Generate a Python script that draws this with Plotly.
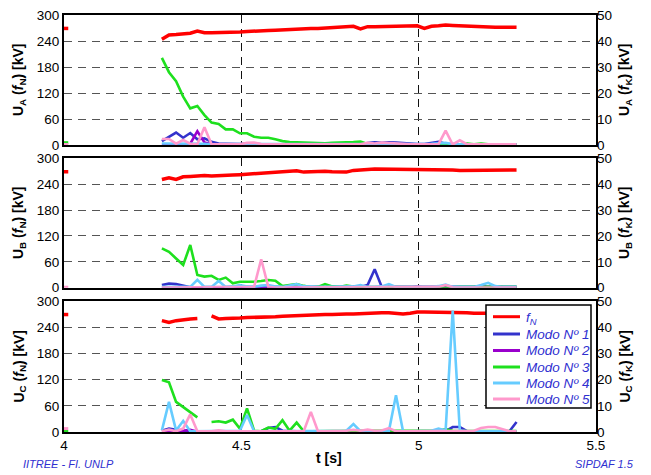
import plotly.graph_objects as go

# ---------------- data ----------------
t = [4.276, 4.296, 4.316, 4.336, 4.356, 4.376, 4.396, 4.416, 4.436, 4.456,
     4.476, 4.496, 4.516, 4.536, 4.556, 4.576, 4.596, 4.616, 4.636, 4.656,
     4.676, 4.696, 4.716, 4.736, 4.756, 4.776, 4.796, 4.816, 4.836, 4.856,
     4.876, 4.896, 4.916, 4.936, 4.956, 4.976, 4.996, 5.016, 5.036, 5.056,
     5.076, 5.096, 5.116, 5.136, 5.156, 5.176, 5.196, 5.216, 5.236, 5.256,
     5.276]
t_first = [4.0, 4.012]
NaN = None

# Phase A
fN_A = [244, 254, 255, 257, 258, 263, 259, 259, 259, 260, 261, 261, 262, 262, 263, 264, 265, 266, 267, 268,
        268, 269, 269, 270, 271, 272, 274, 274, 268, 273, 273, 273, 273, 273, 273, 274, 275, 269, 274, 275,
        277, 276, 275, 275, 274, 274, 273, 272, 272, 272, 272]
m1_A = [1.5, 3.0, 4.8, 2.8, 4.6, 2.2, 2.6, 1.2, 0.6, 0.5, 0.4, 0.4, 0.6, 0.4, 0.3, 0.3, 0.3, 0.3, 0.3, 0.3,
        0.3, 0.3, 0.3, 0.3, 0.3, 0.3, 0.3, 0.3, 0.3, 0.8, 1.0, 0.8, 1.0, 0.9, 0.7, 0.5, 0.4, 0.4, 0.8, 1.2,
        0.5, 0.3, 0.3, 0.3, 0.3, 0.3, 0.3, 0.3, 0.3, 0.3, 0.3]
m2_A = [0.2, 0.2, 0.2, 0.2, 0.5, 5.3, 1.0, 0.3, 0.2, 0.2, 0.2, 0.2, 0.2, 0.2, 0.2, 0.2, 0.2, 0.2, 0.2, 0.2,
        0.2, 0.2, 0.2, 0.2, 0.2, 0.2, 0.2, 0.2, 0.2, 0.2, 0.2, 0.2, 0.2, 0.2, 0.2, 0.2, 0.2, 0.2, 0.2, 0.2,
        0.2, 0.2, 0.2, 0.2, 0.2, 0.2, 0.2, 0.2, 0.2, 0.2, 0.2]
m3_A = [33.5, 28.0, 24.5, 18.6, 14.1, 15.0, 11.5, 8.6, 8.1, 6.0, 6.0, 4.5, 4.5, 3.2, 2.8, 2.8, 2.2, 1.5, 1.1, 1.0,
        0.9, 0.8, 0.7, 0.7, 0.8, 0.8, 1.0, 1.1, 1.3, 0.4, 0.3, 0.3, 0.3, 0.3, 0.3, 0.3, 0.3, 0.3, 0.3, 0.3,
        0.3, 0.3, 0.3, 0.6, 0.3, 0.6, 0.3, 0.3, 0.3, 0.3, 0.3]
m4_A = [0.6, 0.6, 0.5, 0.5, 0.5, 0.5, 0.5, 0.3, 0.3, 0.3, 0.3, 0.3, 0.3, 0.3, 0.3, 0.3, 0.3, 0.3, 0.3, 0.3,
        0.3, 0.3, 0.3, 0.3, 0.3, 0.3, 0.3, 0.3, 0.3, 0.5, 0.5, 0.5, 0.5, 0.5, 0.4, 0.3, 0.3, 0.3, 0.5, 0.7,
        0.8, 0.3, 0.3, 0.3, 0.3, 0.3, 0.3, 0.3, 0.3, 0.3, 0.3]
m5_A = [2.3, 2.3, 0.5, 1.9, 0.5, 0.3, 6.8, 0.3, 0.3, 0.3, 0.3, 0.3, 0.8, 0.9, 0.4, 0.3, 0.3, 0.3, 0.3, 0.3,
        0.3, 0.3, 0.3, 0.3, 0.3, 0.3, 0.3, 0.3, 0.3, 0.8, 0.6, 0.9, 0.7, 0.5, 0.5, 0.3, 0.3, 0.3, 0.3, 0.3,
        5.5, 0.2, 1.8, 0.3, 0.3, 0.3, 0.3, 0.3, 0.3, 0.3, 0.3]
first_A = {"fN": 269, "m3": 0.9, "m5": 0.2}

# Phase B
fN_B = [251, 255, 251, 257, 258, 260, 260, 259, 259, 260, 261, 262, 263, 263, 264, 265, 266, 267, 268, 271,
        268, 269, 269, 270, 269, 268, 268, 272, 274, 274, 275, 275, 275, 275, 275, 275, 275, 274, 274, 274,
        273, 273, 272, 272, 272, 271, 271, 272, 272, 273, 273]
m1_B = [1.0, 1.6, 1.4, 0.7, 0.2, 0.2, 0.2, 0.2, 0.2, 0.2, 0.2, 0.2, 0.2, 0.2, 0.2, 0.2, 0.2, 0.2, 0.2, 0.2,
        0.2, 0.2, 0.2, 0.2, 0.2, 0.2, 0.2, 0.2, 0.3, 1.0, 7.1, 0.3, 0.3, 0.3, 0.3, 0.3, 0.4, 0.4, 0.4, 0.4,
        0.4, 0.4, 0.4, 0.4, 0.4, 0.4, 0.3, 0.3, 0.3, 0.3, 0.3]
m2_B = [0.1, 0.1, 0.1, 0.1, 0.1, 0.1, 0.1, 0.1, 0.1, 0.1, 0.1, 0.1, 0.1, 0.1, 0.0, 0.1, 0.1, 0.1, 0.1, 0.1,
        0.1, 0.1, 0.1, 0.1, 0.1, 0.1, 0.1, 0.1, 0.1, 0.1, 0.1, 0.1, 0.1, 0.1, 0.1, 0.1, 0.4, 0.1, 0.1, 0.1,
        0.1, 0.1, 0.1, 0.1, 0.1, 0.5, 0.1, 0.1, 0.1, 0.1, 0.1]
m3_B = [15.2, 13.9, 11.3, 8.8, 16.5, 4.9, 4.3, 4.6, 3.0, 3.9, 1.7, 2.3, 2.3, 2.3, 2.6, 3.0, 2.7, 0.6, 1.0, 1.4,
        0.7, 0.2, 0.3, 1.4, 0.5, 0.3, 0.8, 0.4, 0.3, 0.3, 0.3, 0.3, 0.3, 0.3, 0.3, 0.3, 0.3, 0.3, 0.3, 0.2,
        0.0, 0.2, 0.3, 0.3, 0.3, 0.3, 0.3, 0.3, 0.3, 0.3, 0.3]
m4_B = [0.3, 0.3, 0.3, 0.3, 0.3, 3.0, 0.3, 0.3, 2.6, 0.3, 0.5, 1.0, 0.5, 0.3, 0.8, 1.0, 0.5, 0.3, 0.8, 1.4,
        0.5, 0.3, 0.3, 0.3, 0.3, 0.3, 0.3, 0.5, 1.0, 0.3, 0.3, 0.5, 1.4, 0.3, 0.3, 0.3, 0.3, 0.3, 0.3, 0.6,
        1.2, 0.3, 0.3, 0.3, 0.3, 1.0, 1.9, 0.6, 0.3, 0.3, 0.3]
m5_B = [0.1, 0.1, 0.1, 0.1, 0.1, 0.1, 0.1, 0.1, 0.1, 0.1, 0.1, 0.1, 0.1, 0.3, 11.0, 0.3, 0.1, 0.1, 0.1, 0.1,
        0.1, 0.1, 0.1, 0.1, 0.1, 0.1, 0.1, 0.1, 0.1, 0.1, 0.1, 0.1, 0.1, 0.1, 0.1, 0.1, 0.1, 0.1, 0.1, 0.3,
        1.0, 0.2, 0.1, 0.1, 0.1, 0.1, 0.1, 0.1, 0.1, 0.1, 0.1]
first_B = {"fN": 269, "m5": 0.2}

# Phase C
fN_C = [255, 251, 255, 258, 259, 260, NaN, 266, 259, 260, 260, 261, 262, 262, 262, 263, 264, 265, 266, 267,
        268, 268, 269, 269, 269, 270, 270, 270, 271, 272, 273, 273, 273, 272, 270, 272, 275, 275, 275, 275,
        275, 274, 273, 273, 272, 272, 272, 272, 272, 272, 272]
m1_C = [0.5, 1.3, 0.8, 0.5, 0.3, 0.3, 0.3, 0.3, 0.3, 0.3, 0.3, 0.3, 0.3, 0.3, 0.3, 1.5, 1.9, 0.5, 0.3, 0.3,
        0.3, 0.3, 0.3, 0.3, 0.3, 0.3, 0.3, 0.3, 0.3, 0.3, 0.3, 0.3, 0.3, 0.3, 0.3, 0.3, 0.3, 0.3, 0.3, 0.3,
        0.3, 1.9, 1.9, 0.3, 0.3, 0.3, 0.3, 0.3, 0.3, 0.3, 3.8]
m2_C = [0.1, 0.1, 0.1, 0.5, 0.8, 0.1, 0.1, 0.1, 0.1, 0.1, 0.1, 0.1, 0.1, 0.1, 0.1, 0.1, 0.1, 0.1, 0.1, 0.1,
        0.1, 0.1, 0.1, 0.1, 0.1, 0.1, 0.1, 0.1, 0.1, 0.5, 0.1, 0.1, 0.1, 0.1, 0.1, 0.1, 0.1, 0.1, 0.1, 0.1,
        0.1, 0.1, 0.1, 0.1, 0.1, 0.1, 0.1, 0.1, 0.1, 0.1, 0.1]
m3_C = [19.8, 19.0, 11.5, 9.6, 7.7, 5.6, NaN, 3.8, 4.1, 3.6, 4.7, 1.3, 9.0, 0.5, 0.3, 1.7, 1.2, 4.5, 0.5, 3.6,
        0.3, 0.3, 0.4, 0.4, 0.4, 0.4, 0.5, 0.5, 0.5, 0.5, 0.5, 0.5, 0.5, 0.5, 0.5, 0.5, 0.5, 0.5, 0.5, 0.6,
        1.0, 0.5, 0.4, 0.4, 0.4, 0.4, 0.4, 0.4, 0.4, 0.4, 0.4]
m4_C = [0.6, 11.5, 0.6, 4.2, 0.3, 0.3, 0.3, 0.3, 0.3, 0.3, 0.3, 0.5, 6.5, 0.3, 0.3, 0.3, 0.3, 0.3, 0.3, 0.3,
        0.3, 0.3, 0.3, 0.3, 0.3, 0.3, 0.5, 3.0, 0.3, 0.3, 0.3, 0.3, 0.3, 14.0, 0.3, 0.3, 0.3, 0.3, 0.5, 1.3,
        0.6, 46.3, 0.6, 0.3, 0.3, 0.3, 0.3, 0.3, 0.3, 0.3, 0.3]
m5_C = [0.3, 0.9, 0.3, 1.3, 6.7, 0.3, 0.3, 0.3, 0.6, 0.3, 0.3, 0.3, 0.3, 0.3, 0.3, 0.3, 0.3, 0.3, 0.3, 0.3,
        0.3, 7.7, 0.3, 0.3, 0.3, 0.3, 0.5, 0.8, 0.5, 0.9, 0.5, 0.6, 1.5, 0.3, 0.3, 0.3, 0.3, 0.3, 0.3, 0.3,
        0.3, 0.3, 0.3, 0.3, 0.5, 1.5, 1.9, 1.9, 1.2, 0.3, 0.3]
first_C = {"fN": 269, "m3": 0.2, "m5": 1.3}

phase_names = ["A", "B", "C"]
mode_names = ["<i>Modo Nº 1</i>", "<i>Modo Nº 2</i>", "<i>Modo Nº 3</i>",
              "<i>Modo Nº 4</i>", "<i>Modo Nº 5</i>"]
fN_name = "<i>f<sub>N</sub></i>"
left_ticks = [0, 60, 120, 180, 240, 300]
right_ticks = [0, 10, 20, 30, 40, 50]
x_ticks = [4, 4.5, 5, 5.5]
x_ticklabels = ["4", "4.5", "5", "5.5"]

# ---------------- style ----------------
RED = "#ff0000"
MODE_COLORS = ["#3333cc", "#9900cc", "#1ee01e", "#66ccff", "#ff99cc"]
TXT_BLUE = "#2f2fd0"
FONT = "Liberation Sans, Arial, sans-serif"

panels = [
    dict(x="x2", yl="y", yr="y2", fN=fN_A, modes=[m1_A, m2_A, m3_A, m4_A, m5_A], first=first_A),
    dict(x="x3", yl="y3", yr="y4", fN=fN_B, modes=[m1_B, m2_B, m3_B, m4_B, m5_B], first=first_B),
    dict(x="x", yl="y5", yr="y6", fN=fN_C, modes=[m1_C, m2_C, m3_C, m4_C, m5_C], first=first_C),
]

fig = go.Figure()
for p in panels:
    fig.add_trace(go.Scatter(x=t, y=p["fN"], xaxis=p["x"], yaxis=p["yl"], mode="lines",
                             line=dict(color=RED, width=3.5), name=fN_name, connectgaps=False))
    fig.add_trace(go.Scatter(x=t_first, y=[p["first"]["fN"]] * 2, xaxis=p["x"], yaxis=p["yl"],
                             mode="lines", line=dict(color=RED, width=3.5)))
    for vals, col, nm in zip(p["modes"], MODE_COLORS, mode_names):
        fig.add_trace(go.Scatter(x=t, y=vals, xaxis=p["x"], yaxis=p["yr"], mode="lines",
                                 line=dict(color=col, width=2.6), name=nm, connectgaps=False))
    for key, col in (("m3", MODE_COLORS[2]), ("m5", MODE_COLORS[4])):
        if key in p["first"]:
            fig.add_trace(go.Scatter(x=t_first, y=[p["first"][key]] * 2, xaxis=p["x"], yaxis=p["yr"],
                                     mode="lines", line=dict(color=col, width=3)))

W, H = 651, 475
ML, MR, MT, MB = 64, 55, 15, 43
PH = H - MT - MB
PW = W - ML - MR


def frac_y(px):
    return (H - MB - px) / PH


def frac_x(px):
    return (px - ML) / PW


domA = [frac_y(145), 1.0]
domB = [frac_y(287.7), frac_y(158.3)]
domC = [0.0, frac_y(301)]

tickfont = dict(family=FONT, size=13.5, color="black")
grid_y = dict(showgrid=True, gridcolor="#555555", gridwidth=1, griddash="8px,6px")
grid_x = dict(showgrid=True, gridcolor="#111111", gridwidth=1, griddash="8px,6px")

xcommon = dict(range=[4, 5.5], tickvals=x_ticks, ticktext=x_ticklabels, showline=True, mirror=True,
               linecolor="black", linewidth=2, zeroline=False, ticks="", **grid_x)
lcommon = dict(range=[0, 300], tickvals=left_ticks, showline=True, mirror=True, linecolor="black",
               linewidth=2, zeroline=False, ticks="", tickfont=tickfont, **grid_y)
rcommon = dict(range=[0, 50], tickvals=right_ticks, side="right", showgrid=False, zeroline=False,
               showline=False, ticks="", tickfont=tickfont)

fig.update_layout(
    width=W, height=H,
    margin=dict(l=ML, r=MR, t=MT, b=MB, autoexpand=False),
    paper_bgcolor="white", plot_bgcolor="white",
    showlegend=False,
    xaxis=dict(domain=[0, 1], anchor="y5", tickfont=tickfont, **xcommon),
    xaxis2=dict(domain=[0, 1], anchor="y", matches="x", showticklabels=False, **xcommon),
    xaxis3=dict(domain=[0, 1], anchor="y3", matches="x", showticklabels=False, **xcommon),
    yaxis=dict(domain=domA, anchor="x2", **lcommon),
    yaxis2=dict(domain=domA, anchor="x2", overlaying="y", **rcommon),
    yaxis3=dict(domain=domB, anchor="x3", **lcommon),
    yaxis4=dict(domain=domB, anchor="x3", overlaying="y3", **rcommon),
    yaxis5=dict(domain=domC, anchor="x", **lcommon),
    yaxis6=dict(domain=domC, anchor="x", overlaying="y5", **rcommon),
)

annotations = []
shapes = []
doms = [domA, domB, domC]
for ph, dom in zip(phase_names, doms):
    yc = (dom[0] + dom[1]) / 2
    annotations.append(dict(
        text=f"<b>U<sub>{ph}</sub> (<i>f</i><sub>N</sub>) [kV]</b>", xref="paper", yref="paper",
        x=0, y=yc, xshift=-45, textangle=-90, showarrow=False, xanchor="center", yanchor="middle",
        font=dict(family=FONT, size=14, color="black")))
    annotations.append(dict(
        text=f"<b>U<sub>{ph}</sub> (<i>f</i><sub>K</sub>) [kV]</b>", xref="paper", yref="paper",
        x=1, y=yc, xshift=29, textangle=-90, showarrow=False, xanchor="center", yanchor="middle",
        font=dict(family=FONT, size=14, color="black")))
annotations.append(dict(text="<b>t [s]</b>", xref="paper", yref="paper", x=frac_x(329),
                        y=frac_y(458), showarrow=False, xanchor="center", yanchor="middle",
                        font=dict(family=FONT, size=14, color="black")))
annotations.append(dict(text="<i>IITREE - FI. UNLP</i>", xref="paper", yref="paper",
                        x=frac_x(21), y=frac_y(464), showarrow=False, xanchor="left",
                        yanchor="middle", font=dict(family=FONT, size=11, color=TXT_BLUE)))
annotations.append(dict(text="<i>SIPDAF 1.5</i>", xref="paper", yref="paper",
                        x=frac_x(636), y=frac_y(464), showarrow=False, xanchor="right",
                        yanchor="middle", font=dict(family=FONT, size=11, color=TXT_BLUE)))

# legend box (drawn by hand so the row spacing matches)
shapes.append(dict(type="rect", xref="paper", yref="paper", x0=frac_x(486), x1=frac_x(591),
                   y0=frac_y(408), y1=frac_y(305), fillcolor="white",
                   line=dict(color="black", width=1.5), layer="above"))
leg_names = [fN_name] + mode_names
leg_colors = [RED] + MODE_COLORS
leg_rows = [316.7, 334.0, 350.5, 367.0, 383.0, 399.0]
for nm, col, ry in zip(leg_names, leg_colors, leg_rows):
    shapes.append(dict(type="line", xref="paper", yref="paper", x0=frac_x(493), x1=frac_x(520),
                       y0=frac_y(ry), y1=frac_y(ry), line=dict(color=col, width=3), layer="above"))
    annotations.append(dict(text=nm, xref="paper", yref="paper", x=frac_x(524),
                            y=frac_y(ry + (2 if nm == fN_name else 0)), showarrow=False,
                            xanchor="left", yanchor="middle",
                            font=dict(family=FONT, size=13.5, color=TXT_BLUE)))

fig.update_layout(annotations=annotations, shapes=shapes)

fig.write_html("out.html", config={"displayModeBar": False},
               post_script="document.body.style.margin='0';document.body.style.padding='0';")
